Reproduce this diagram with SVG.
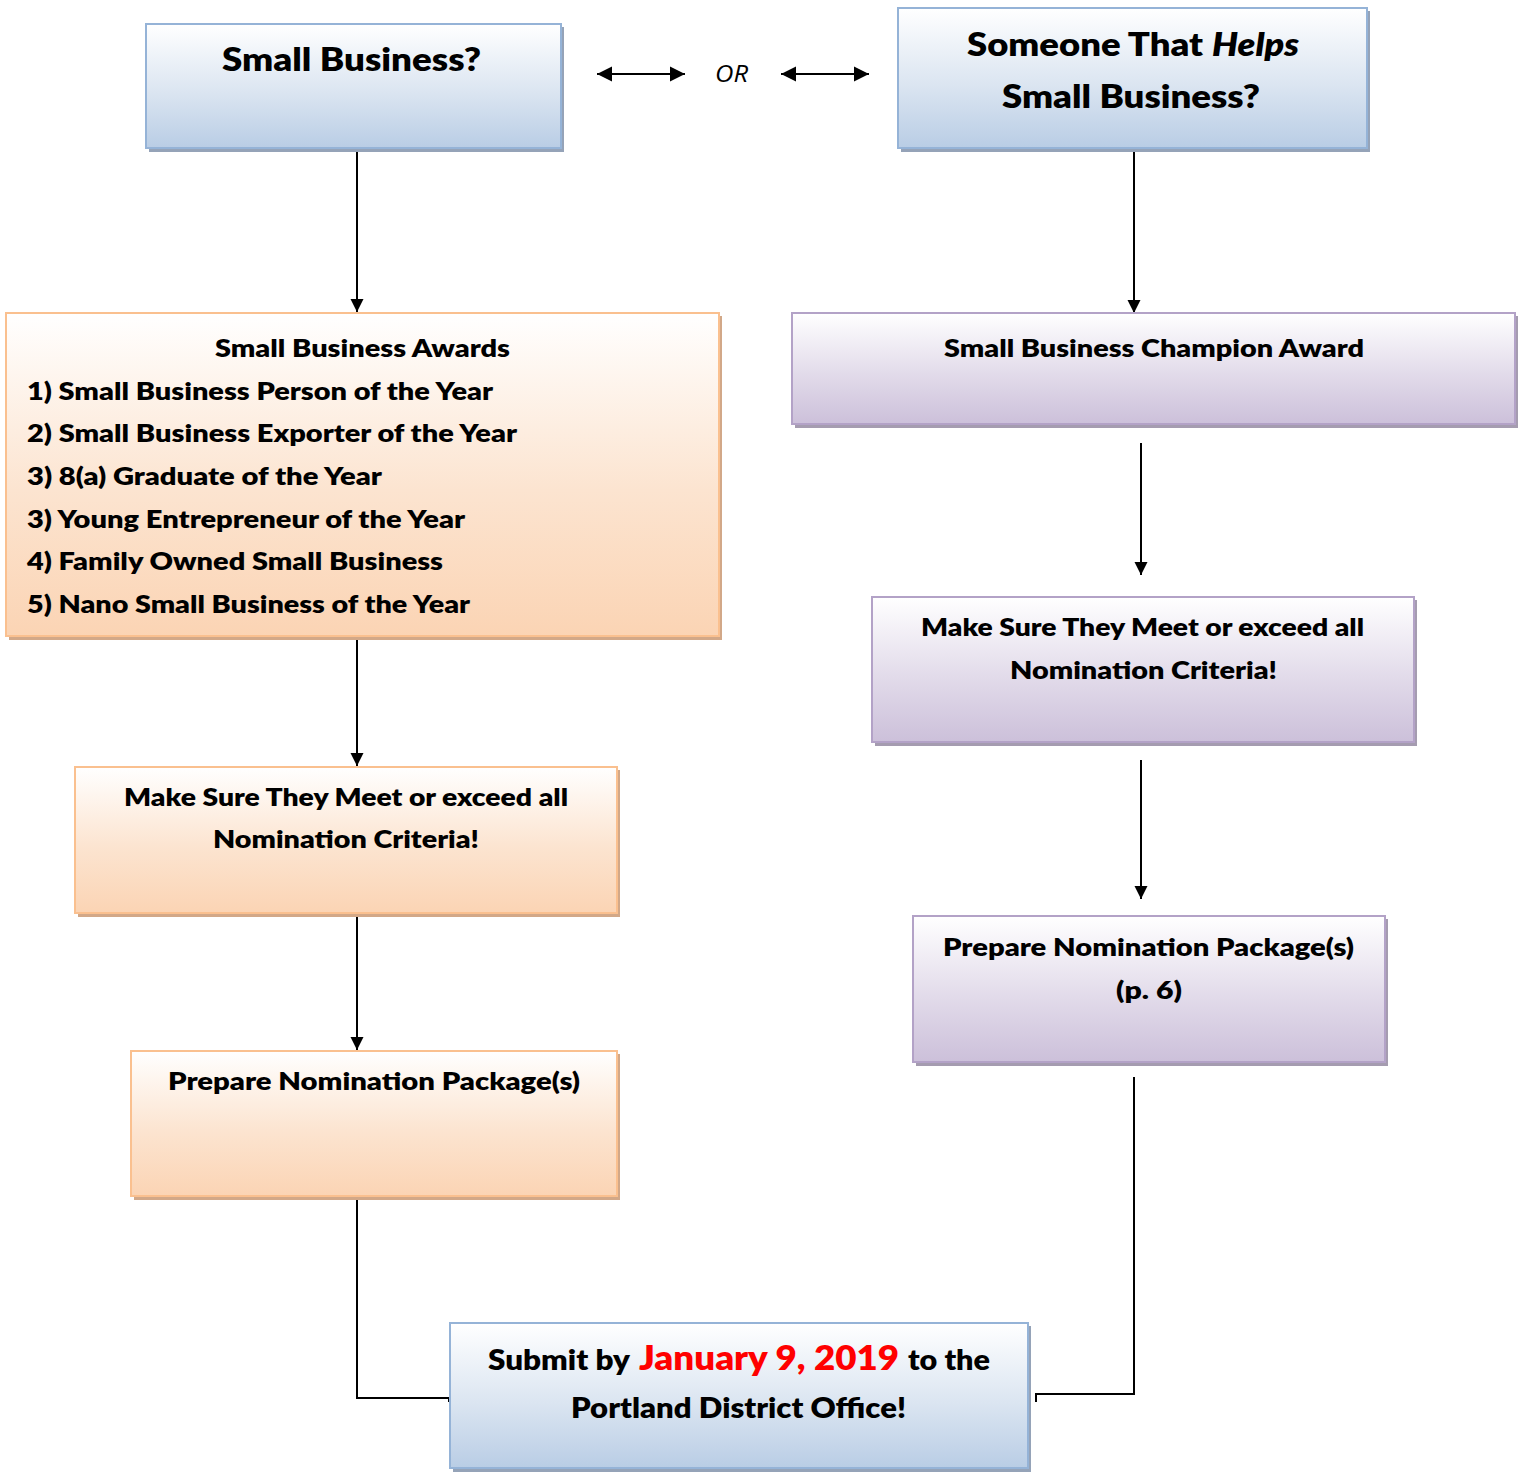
<svg xmlns="http://www.w3.org/2000/svg" width="1518" height="1472" viewBox="0 0 1518 1472">
<defs>
<linearGradient id="gBlue" x1="0" y1="0" x2="0" y2="1">
<stop offset="0" stop-color="#ffffff"/><stop offset="0.55" stop-color="#dbe5f1"/><stop offset="1" stop-color="#b9cde5"/>
</linearGradient>
<linearGradient id="gOrange" x1="0" y1="0" x2="0" y2="1">
<stop offset="0" stop-color="#ffffff"/><stop offset="0.55" stop-color="#fce4d0"/><stop offset="1" stop-color="#fbd4b4"/>
</linearGradient>
<linearGradient id="gPurple" x1="0" y1="0" x2="0" y2="1">
<stop offset="0" stop-color="#ffffff"/><stop offset="0.55" stop-color="#e2dbea"/><stop offset="1" stop-color="#ccc0da"/>
</linearGradient>
<marker id="arr" viewBox="0 0 10 10" refX="10" refY="5" markerUnits="userSpaceOnUse" markerWidth="13" markerHeight="14" orient="auto">
<path d="M0,0 L10,5 L0,10 z" fill="#000"/>
</marker>
<marker id="arr2" viewBox="0 0 10 10" refX="10" refY="5" markerUnits="userSpaceOnUse" markerWidth="15" markerHeight="16" orient="auto-start-reverse">
<path d="M0,0 L10,5 L0,10 z" fill="#000"/>
</marker>
</defs>
<style>
.t{font-family:Lato,"Liberation Sans",sans-serif;font-weight:800;fill:#000;}
.b{font-size:24px;}
.h{font-size:32px;}
.blue{fill:url(#gBlue);stroke:#95b3d7;stroke-width:2;}
.orange{fill:url(#gOrange);stroke:#fac08f;stroke-width:2;}
.purple{fill:url(#gPurple);stroke:#b3a2c7;stroke-width:2;}
.sb{fill:#95a3b8;}
.so{fill:#d2a888;}
.sp{fill:#a59cb0;}
.c{fill:none;stroke:#000;stroke-width:2;}
</style>

<g id="connectors">
<line class="c" x1="357" y1="148" x2="357" y2="312" marker-end="url(#arr)"/>
<line class="c" x1="1134" y1="148" x2="1134" y2="313" marker-end="url(#arr)"/>
<line class="c" x1="357" y1="636" x2="357" y2="766" marker-end="url(#arr)"/>
<line class="c" x1="357" y1="913" x2="357" y2="1050" marker-end="url(#arr)"/>
<line class="c" x1="1141" y1="443" x2="1141" y2="575" marker-end="url(#arr)"/>
<line class="c" x1="1141" y1="760" x2="1141" y2="899" marker-end="url(#arr)"/>
<polyline class="c" points="357,1196 357,1398 449,1398 449,1402"/>
<polyline class="c" points="1134,1077 1134,1394 1036,1394 1036,1402"/>
<line class="c" x1="597" y1="74" x2="685" y2="74" marker-start="url(#arr2)" marker-end="url(#arr2)"/>
<line class="c" x1="781" y1="74" x2="869" y2="74" marker-start="url(#arr2)" marker-end="url(#arr2)"/>
<text x="715" y="82" font-family="'Open Sans','Liberation Sans',sans-serif" font-style="italic" font-size="23" textLength="33" lengthAdjust="spacingAndGlyphs">OR</text>
</g>

<g id="small-business">
<rect class="sb" x="149" y="27" width="415" height="125"/>
<rect class="blue" x="146" y="24" width="415" height="124"/>
<text class="t h" x="222" y="71" textLength="259" lengthAdjust="spacingAndGlyphs">Small Business?</text>
</g>

<g id="someone-helps">
<rect class="sb" x="901" y="11" width="469" height="141"/>
<rect class="blue" x="898" y="8" width="469" height="140"/>
<text class="t h" x="967" y="56" textLength="236" lengthAdjust="spacingAndGlyphs">Someone That</text>
<text class="t h" x="1212" y="56" font-style="italic" textLength="87" lengthAdjust="spacingAndGlyphs">Helps</text>
<text class="t h" x="1002" y="108" textLength="258" lengthAdjust="spacingAndGlyphs">Small Business?</text>
</g>

<g id="awards">
<rect class="so" x="9" y="316" width="713" height="324"/>
<rect class="orange" x="6" y="313" width="713" height="323"/>
<text class="t b" x="215" y="357" textLength="295" lengthAdjust="spacingAndGlyphs">Small Business Awards</text>
<text class="t b" x="27" y="400" textLength="466" lengthAdjust="spacingAndGlyphs">1) Small Business Person of the Year</text>
<text class="t b" x="27" y="442" textLength="490" lengthAdjust="spacingAndGlyphs">2) Small Business Exporter of the Year</text>
<text class="t b" x="27" y="485" textLength="355" lengthAdjust="spacingAndGlyphs">3) 8(a) Graduate of the Year</text>
<text class="t b" x="27" y="528" textLength="438" lengthAdjust="spacingAndGlyphs">3) Young Entrepreneur of the Year</text>
<text class="t b" x="27" y="570" textLength="416" lengthAdjust="spacingAndGlyphs">4) Family Owned Small Business</text>
<text class="t b" x="27" y="613" textLength="443" lengthAdjust="spacingAndGlyphs">5) Nano Small Business of the Year</text>
</g>

<g id="criteria-left">
<rect class="so" x="78" y="770" width="542" height="147"/>
<rect class="orange" x="75" y="767" width="542" height="146"/>
<text class="t b" x="124" y="806" textLength="444" lengthAdjust="spacingAndGlyphs">Make Sure They Meet or exceed all</text>
<text class="t b" x="213" y="848" textLength="266" lengthAdjust="spacingAndGlyphs">Nomination Criteria!</text>
</g>

<g id="package-left">
<rect class="so" x="134" y="1054" width="486" height="146"/>
<rect class="orange" x="131" y="1051" width="486" height="145"/>
<text class="t b" x="168" y="1090" textLength="412" lengthAdjust="spacingAndGlyphs">Prepare Nomination Package(s)</text>
</g>

<g id="champion">
<rect class="sp" x="795" y="316" width="723" height="112"/>
<rect class="purple" x="792" y="313" width="723" height="111"/>
<text class="t b" x="944" y="357" textLength="420" lengthAdjust="spacingAndGlyphs">Small Business Champion Award</text>
</g>

<g id="criteria-right">
<rect class="sp" x="875" y="600" width="542" height="146"/>
<rect class="purple" x="872" y="597" width="542" height="145"/>
<text class="t b" x="921" y="636" textLength="443" lengthAdjust="spacingAndGlyphs">Make Sure They Meet or exceed all</text>
<text class="t b" x="1010" y="679" textLength="267" lengthAdjust="spacingAndGlyphs">Nomination Criteria!</text>
</g>

<g id="package-right">
<rect class="sp" x="916" y="919" width="472" height="147"/>
<rect class="purple" x="913" y="916" width="472" height="146"/>
<text class="t b" x="943" y="956" textLength="411" lengthAdjust="spacingAndGlyphs">Prepare Nomination Package(s)</text>
<text class="t b" x="1116" y="999" textLength="66" lengthAdjust="spacingAndGlyphs">(p. 6)</text>
</g>

<g id="submit">
<rect class="sb" x="453" y="1326" width="578" height="146"/>
<rect class="blue" x="450" y="1323" width="578" height="145"/>
<text class="t" font-size="28" x="488" y="1370" textLength="142" lengthAdjust="spacingAndGlyphs">Submit by</text>
<text class="t" font-size="34" x="639" y="1370" style="fill:#ff0000" textLength="260" lengthAdjust="spacingAndGlyphs">January 9, 2019</text>
<text class="t" font-size="28" x="908" y="1370" textLength="82" lengthAdjust="spacingAndGlyphs">to the</text>
<text class="t" font-size="28" x="571" y="1418" textLength="335" lengthAdjust="spacingAndGlyphs">Portland District Office!</text>
</g>
</svg>
